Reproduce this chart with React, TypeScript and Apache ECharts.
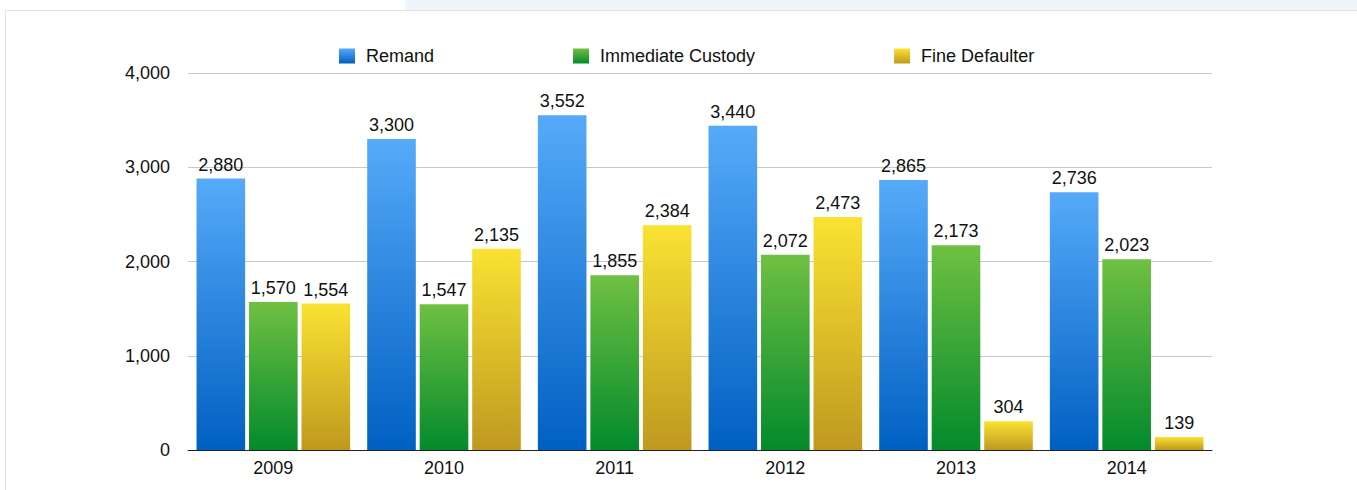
import React, { useEffect, useRef } from "react";
import * as echarts from "echarts";

const years = ["2009", "2010", "2011", "2012", "2013", "2014"];
const remand = [2880, 3300, 3552, 3440, 2865, 2736];
const immediateCustody = [1570, 1547, 1855, 2072, 2173, 2023];
const fineDefaulter = [1554, 2135, 2384, 2473, 304, 139];

const grad = (top: string, bottom: string) =>
  new echarts.graphic.LinearGradient(0, 0, 0, 1, [
    { offset: 0, color: top },
    { offset: 1, color: bottom },
  ]);

const FONT = "'Liberation Sans', Arial, Helvetica, sans-serif";

export default function App() {
  const ref = useRef<HTMLDivElement>(null);
  useEffect(() => {
    document.body.style.margin = "0";
    if (!ref.current) return;
    const chart = echarts.init(ref.current, undefined, { renderer: "svg" });
    const label = {
      show: true,
      position: "top" as const,
      distance: 5,
      color: "#111",
      fontSize: 18,
      fontFamily: FONT,
      formatter: (p: any) => Number(p.value).toLocaleString("en-US"),
    };
    const mk = (name: string, data: number[], top: string, bottom: string) => ({
      name,
      type: "bar" as const,
      data,
      barGap: "8%",
      barCategoryGap: "10%",
      itemStyle: { color: grad(top, bottom) },
      label,
    });
    chart.setOption({
      animation: false,
      textStyle: { fontFamily: FONT },
      graphic: [
        { type: "rect", shape: { x: 405, y: 0, width: 952, height: 10 }, style: { fill: "#eef6fc" }, silent: true },
        { type: "line", shape: { x1: 5, y1: 10.5, x2: 1357, y2: 10.5 }, style: { stroke: "#e2e2e2", lineWidth: 1 }, silent: true },
        { type: "line", shape: { x1: 5.5, y1: 10, x2: 5.5, y2: 490 }, style: { stroke: "#e2e2e2", lineWidth: 1 }, silent: true },
      ],
      legend: {
        top: 42,
        left: 334,
        itemWidth: 16,
        itemHeight: 15,
        itemGap: 139,
        icon: "rect",
        textStyle: { fontSize: 18, color: "#111", fontFamily: FONT, padding: [0, 0, 0, 6] },
        data: ["Remand", "Immediate Custody", "Fine Defaulter"],
      },
      grid: { left: 188, right: 145, top: 73, bottom: 40, containLabel: false },
      xAxis: {
        type: "category",
        data: years,
        axisTick: { show: false },
        axisLine: { lineStyle: { color: "#222", width: 1 } },
        axisLabel: { fontSize: 18, color: "#111", fontFamily: FONT, margin: 9 },
      },
      yAxis: {
        type: "value",
        min: 0,
        max: 4000,
        interval: 1000,
        axisLine: { show: false },
        axisTick: { show: false },
        splitLine: { lineStyle: { color: "#c8c8c8", width: 1 } },
        axisLabel: {
          fontSize: 18,
          color: "#111",
          fontFamily: FONT,
          margin: 18,
          formatter: (v: number) => v.toLocaleString("en-US"),
        },
      },
      series: [
        mk("Remand", remand, "#56aaf9", "#0060c2"),
        mk("Immediate Custody", immediateCustody, "#6fc042", "#038a2c"),
        mk("Fine Defaulter", fineDefaulter, "#fae232", "#bf991f"),
      ],
    });
    return () => chart.dispose();
  }, []);
  return <div ref={ref} style={{ position: "absolute", left: 0, top: 0, width: 1357, height: 490 }} />;
}
